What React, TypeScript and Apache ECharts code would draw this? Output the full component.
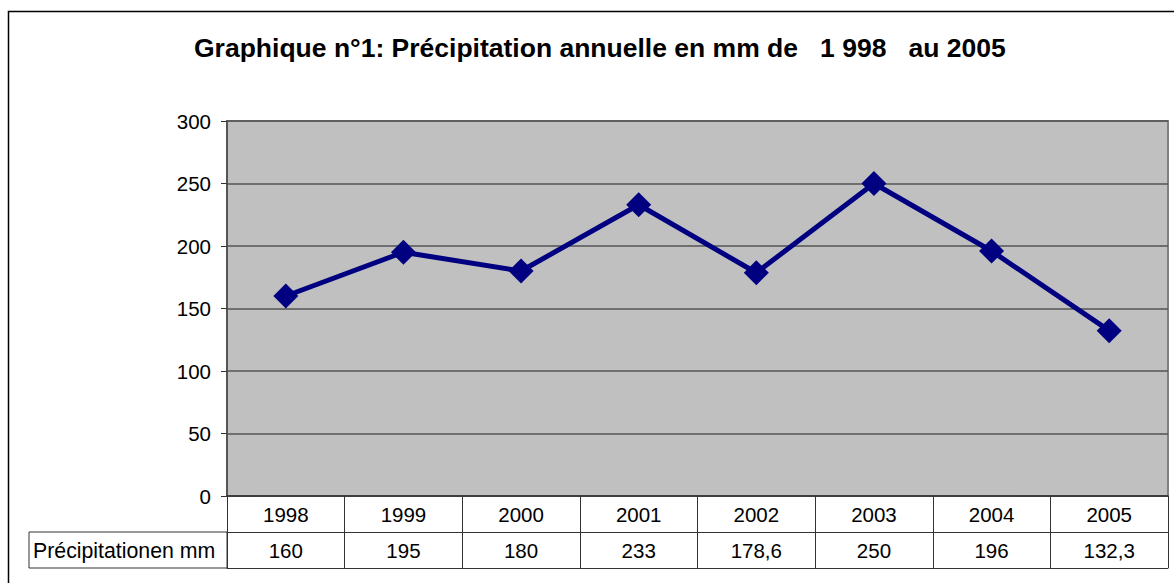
import React, { useEffect, useRef } from "react";
import * as echarts from "echarts";

const TITLE = "Graphique n°1: Précipitation annuelle en mm de   1 998   au 2005";
const SERIES_NAME = "Précipitationen mm";
const YEARS = ["1998", "1999", "2000", "2001", "2002", "2003", "2004", "2005"];
const PRECIP = [160, 195, 180, 233, 178.6, 250, 196, 132.3];
const Y_MIN = 0;
const Y_MAX = 300;
const Y_STEP = 50;

const FONT = "'Liberation Sans', Arial, sans-serif";

export default function App() {
  const ref = useRef<HTMLDivElement>(null);
  useEffect(() => {
    if (!ref.current) return;
    const chart = echarts.init(ref.current, undefined, { renderer: "svg" });
    const valueLabels = PRECIP.map((v) => String(v).replace(".", ","));
    const tableLine = { show: true, lineStyle: { color: "#333", width: 1 } };
    chart.setOption({
      animation: false,
      backgroundColor: "#fff",
      textStyle: { fontFamily: FONT },
      title: {
        text: TITLE,
        left: 189,
        top: 29,
        textStyle: { fontSize: 26.5, fontWeight: "bold", color: "#000", fontFamily: FONT },
      },
      graphic: [
        {
          type: "rect",
          shape: { x: 8.5, y: 11.5, width: 1400, height: 800 },
          style: { fill: "none", stroke: "#000", lineWidth: 1.5 },
          silent: true,
          z: -10,
        },
        {
          type: "rect",
          shape: { x: 29, y: 532, width: 198, height: 36 },
          style: { fill: "#fff", stroke: "#333", lineWidth: 1 },
          silent: true,
        },
        {
          type: "text",
          x: 33,
          y: 551,
          style: {
            text: SERIES_NAME,
            fontSize: 21.3,
            fontFamily: FONT,
            fill: "#000",
            verticalAlign: "middle",
            align: "left",
          },
          silent: true,
        },
      ],
      grid: {
        left: 227,
        top: 121,
        right: 6,
        bottom: 87,
        show: true,
        backgroundColor: "#C0C0C0",
        borderColor: "#808080",
        borderWidth: 2,
      },
      xAxis: [
        {
          type: "category",
          data: YEARS,
          position: "bottom",
          boundaryGap: true,
          axisLine: { show: true, lineStyle: { color: "#333", width: 1.5 } },
          axisTick: { show: true, interval: 0, length: 72, inside: false, lineStyle: { color: "#333", width: 1 } },
          axisLabel: { interval: 0, margin: 18, verticalAlign: "middle", fontSize: 20.5, color: "#000", fontFamily: FONT },
          splitLine: { show: false },
        },
        {
          type: "category",
          data: valueLabels,
          position: "bottom",
          offset: 36,
          boundaryGap: true,
          axisLine: tableLine,
          axisTick: { show: false },
          axisLabel: { interval: 0, margin: 18, verticalAlign: "middle", fontSize: 20.5, color: "#000", fontFamily: FONT },
          splitLine: { show: false },
        },
        {
          type: "category",
          data: YEARS,
          position: "bottom",
          offset: 72,
          boundaryGap: true,
          axisLine: tableLine,
          axisTick: { show: false },
          axisLabel: { show: false },
          splitLine: { show: false },
        },
      ],
      yAxis: {
        type: "value",
        min: Y_MIN,
        max: Y_MAX,
        interval: Y_STEP,
        axisLine: { show: true, lineStyle: { color: "#555", width: 2 } },
        axisTick: { show: true, length: 6, lineStyle: { color: "#333", width: 1 } },
        axisLabel: { margin: 16, fontSize: 20.5, color: "#000", fontFamily: FONT },
        splitLine: { show: true, lineStyle: { color: "#555", width: 1.5 } },
      },
      series: [
        {
          name: SERIES_NAME,
          type: "line",
          xAxisIndex: 0,
          yAxisIndex: 0,
          data: PRECIP,
          symbol: "diamond",
          symbolSize: 25,
          lineStyle: { color: "#000080", width: 5 },
          itemStyle: { color: "#000080" },
          z: 5,
        },
      ],
    });
    return () => chart.dispose();
  }, []);
  return (
    <div
      ref={ref}
      style={{ position: "fixed", left: 0, top: 0, width: 1174, height: 583 }}
    />
  );
}
